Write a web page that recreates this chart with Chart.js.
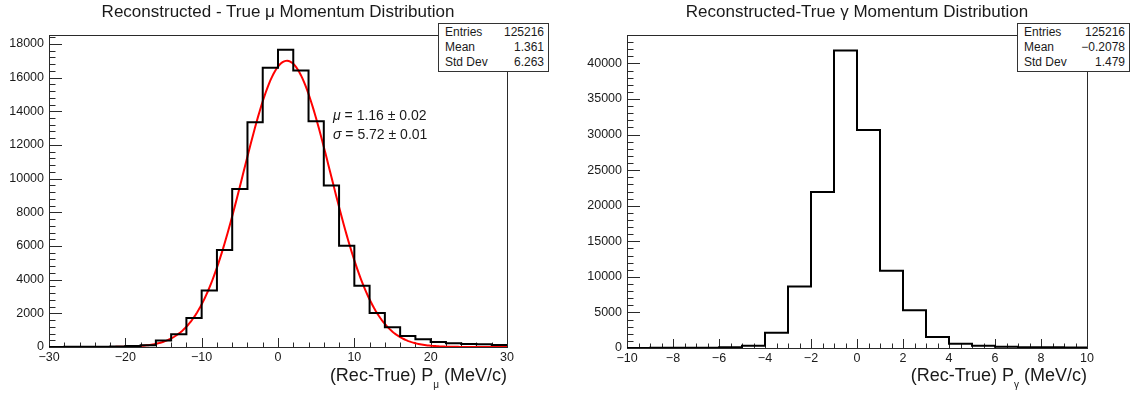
<!DOCTYPE html>
<html>
<head>
<meta charset="utf-8">
<title>Momentum resolution</title>
<script src="https://cdn.jsdelivr.net/npm/chart.js@4.4.1/dist/chart.umd.min.js"></script>
<style>
  body { margin: 0; background: #fff; font-family: 'Liberation Sans', Arial, sans-serif; color: #1a1a1a; }
  #page { position: relative; width: 1135px; height: 393px; overflow: hidden; }
  canvas { position: absolute; top: 0; }
  .title { position: absolute; top: 2px; font-size: 17px; white-space: nowrap; transform: translateX(-50%); }
  .stats { position: absolute; top: 23px; height: 49px; background: #fff; border: 1px solid #333;
           box-sizing: border-box; font-size: 12px; }
  .stats div { position: absolute; left: 6px; right: 4px; height: 15px; line-height: 15px; }
  .stats span { position: absolute; right: 0; }
  .axis-title { position: absolute; top: 365px; font-size: 18px; white-space: nowrap; text-align: right; }
  .axis-title sub { font-size: 10px; vertical-align: -7px; }
  .fit { position: absolute; font-size: 14px; white-space: nowrap; }
</style>
</head>
<body>
<div id="page">
  <canvas id="muChart" width="567" height="393" style="left:0"></canvas>
  <canvas id="gammaChart" width="568" height="393" style="left:567px"></canvas>

  <div class="title" style="left:278px">Reconstructed - True μ Momentum Distribution</div>
  <div class="title" style="left:857px">Reconstructed-True γ Momentum Distribution</div>

  <div class="stats" id="muStats" style="left:438px; width:111px"></div>
  <div class="stats" id="gammaStats" style="left:1017px; width:113px"></div>

  <div class="fit" style="left:333px; top:107px"><i>μ</i> = 1.16 ± 0.02</div>
  <div class="fit" style="left:333px; top:126px"><i>σ</i> = 5.72 ± 0.01</div>

  <div class="axis-title" style="right:628px">(Rec-True) P<sub>μ</sub> (MeV/c)</div>
  <div class="axis-title" style="right:48px">(Rec-True) P<sub>γ</sub> (MeV/c)</div>
</div>

<script>
// muon: 30 bins of 2 MeV/c from -30 to 30
const muRange = [-30, 30];
const muCounts = [5, 8, 12, 20, 35, 60, 110, 380, 760, 1720,
                  3350, 5760, 9390, 13350, 16580, 17650, 16420, 13410, 9590, 6020,
                  3640, 2020, 1170, 660, 460, 300, 220, 180, 160, 120];
const muXTicks = [-30, -20, -10, 0, 10, 20, 30];
const muYTicks = [0, 2000, 4000, 6000, 8000, 10000, 12000, 14000, 16000, 18000];

// gaussian fit on the muon histogram
const fitMean = 1.16;
const fitSigma = 5.72;
const fitPeak = 17000;

// photon: 20 bins of 1 MeV/c from -10 to 10
const gammaRange = [-10, 10];
const gammaCounts = [10, 20, 30, 50, 100, 330, 2130, 8650, 21930, 41830,
                     30630, 10870, 5300, 1560, 615, 330, 190, 120, 90, 60];
const gammaXTicks = [-10, -8, -6, -4, -2, 0, 2, 4, 6, 8, 10];
const gammaYTicks = [0, 5000, 10000, 15000, 20000, 25000, 30000, 35000, 40000];

const muStats = [['Entries', '125216'], ['Mean', '1.361'], ['Std Dev', '6.263']];
const gammaStats = [['Entries', '125216'], ['Mean', '\u22120.2078'], ['Std Dev', '1.479']];

Chart.defaults.font.family = "'Liberation Sans', Arial, sans-serif";
Chart.defaults.font.size = 12.5;
Chart.defaults.color = '#1a1a1a';

function fmt(v) {
    return v < 0 ? '\u2212' + Math.abs(v) : String(v);
}

// step outline: one point per left edge plus the closing right edge
function histPoints(range, counts) {
    const w = (range[1] - range[0]) / counts.length;
    const pts = counts.map((c, i) => ({ x: range[0] + i * w, y: c }));
    pts.push({ x: range[1], y: counts[counts.length - 1] });
    return pts;
}

function gaussPoints(range, mean, sigma, peak) {
    const pts = [];
    for (let x = range[0]; x <= range[1] + 1e-9; x += 0.2) {
        pts.push({ x: x, y: peak * Math.exp(-0.5 * Math.pow((x - mean) / sigma, 2)) });
    }
    return pts;
}

// frame box with inward ticks on bottom and left axes
const rootFrame = {
    id: 'rootFrame',
    beforeDatasetsDraw(chart, args, opts) {
        const { ctx, chartArea: a, scales: { x, y } } = chart;
        ctx.save();
        ctx.strokeStyle = '#2a2a2a';
        ctx.lineWidth = 1;
        ctx.beginPath();
        const nx = Math.round((x.max - x.min) / opts.xMinor);
        for (let i = 0; i <= nx; i++) {
            const v = x.min + i * opts.xMinor;
            const px = Math.round(x.getPixelForValue(v)) + 0.5;
            const r = v / opts.xMajor;
            const len = Math.abs(r - Math.round(r)) < 1e-6 ? 9 : 4.5;
            ctx.moveTo(px, a.bottom);
            ctx.lineTo(px, a.bottom - len);
        }
        const ny = Math.floor((y.max - y.min) / opts.yMinor + 1e-6);
        for (let i = 0; i <= ny; i++) {
            const v = y.min + i * opts.yMinor;
            const py = Math.round(y.getPixelForValue(v)) + 0.5;
            const r = v / opts.yMajor;
            const len = Math.abs(r - Math.round(r)) < 1e-6 ? 13 : 6.5;
            ctx.moveTo(a.left, py);
            ctx.lineTo(a.left + len, py);
        }
        ctx.stroke();
        ctx.strokeRect(Math.round(a.left) + 0.5, Math.round(a.top) + 0.5,
                       Math.round(a.right - a.left), Math.round(a.bottom - a.top));
        ctx.restore();
    }
};

function makeChart(id, cfg) {
    return new Chart(document.getElementById(id), {
        type: 'line',
        data: { datasets: cfg.datasets },
        options: {
            responsive: false,
            animation: false,
            devicePixelRatio: 1,
            layout: { padding: { left: 0, right: cfg.padRight, top: 35, bottom: 0 } },
            plugins: {
                legend: { display: false },
                tooltip: { enabled: false },
                rootFrame: cfg.ticks
            },
            elements: { point: { radius: 0 } },
            scales: {
                x: {
                    type: 'linear',
                    min: cfg.xRange[0],
                    max: cfg.xRange[1],
                    grid: { display: false, drawTicks: false },
                    border: { display: false },
                    afterFit: s => { s.height = cfg.xHeight; },
                    afterBuildTicks: s => { s.ticks = cfg.xTicks.map(v => ({ value: v })); },
                    ticks: { maxRotation: 0, autoSkip: false, padding: 3, callback: v => fmt(v) }
                },
                y: {
                    type: 'linear',
                    min: 0,
                    max: cfg.yMax,
                    grid: { display: false, drawTicks: false },
                    border: { display: false },
                    afterFit: s => { s.width = cfg.yWidth; },
                    afterBuildTicks: s => { s.ticks = cfg.yTicks.map(v => ({ value: v })); },
                    ticks: { padding: 5, callback: v => String(v) }
                }
            }
        },
        plugins: [rootFrame]
    });
}

makeChart('muChart', {
    xRange: muRange,
    yMax: 18530,
    xTicks: muXTicks,
    yTicks: muYTicks,
    padRight: 60,
    xHeight: 46,
    yWidth: 49,
    ticks: { xMajor: 10, xMinor: 2, yMajor: 2000, yMinor: 400 },
    datasets: [
        {
            data: histPoints(muRange, muCounts),
            stepped: 'before',
            borderColor: '#000',
            borderWidth: 2,
            fill: false
        },
        {
            data: gaussPoints(muRange, fitMean, fitSigma, fitPeak),
            borderColor: '#ff0000',
            borderWidth: 2,
            tension: 0,
            fill: false
        }
    ]
});

makeChart('gammaChart', {
    xRange: gammaRange,
    yMax: 44000,
    xTicks: gammaXTicks,
    yTicks: gammaYTicks,
    padRight: 48,
    xHeight: 45,
    yWidth: 60,
    ticks: { xMajor: 2, xMinor: 0.5, yMajor: 5000, yMinor: 1000 },
    datasets: [
        {
            data: histPoints(gammaRange, gammaCounts),
            stepped: 'before',
            borderColor: '#000',
            borderWidth: 2,
            fill: false
        }
    ]
});

// statistics boxes
function fillStats(id, rows) {
    const box = document.getElementById(id);
    rows.forEach((r, i) => {
        const row = document.createElement('div');
        row.style.top = (1 + i * 15) + 'px';
        row.innerHTML = r[0] + '<span>' + r[1] + '</span>';
        box.appendChild(row);
    });
}
fillStats('muStats', muStats);
fillStats('gammaStats', gammaStats);
</script>
</body>
</html>
